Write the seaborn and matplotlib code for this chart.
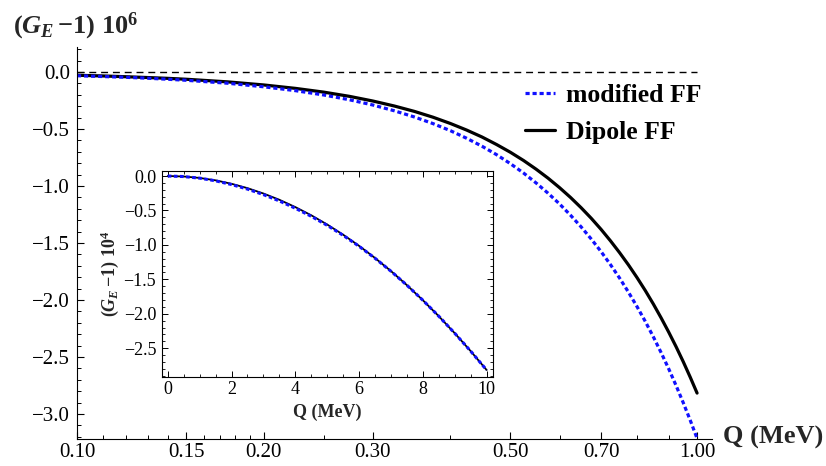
import matplotlib
matplotlib.use("Agg")
import matplotlib.pyplot as plt
from matplotlib.ticker import NullFormatter
import seaborn as sns

# ---- data ----
Q_main = [0.10, 0.11, 0.12, 0.13, 0.14, 0.15, 0.175, 0.20, 0.225, 0.25, 0.275, 0.30, 0.325, 0.35,
          0.375, 0.40, 0.425, 0.45, 0.475, 0.50, 0.525, 0.55, 0.575, 0.60, 0.625, 0.65, 0.675,
          0.70, 0.725, 0.75, 0.775, 0.80, 0.825, 0.85, 0.875, 0.90, 0.925, 0.95, 0.975, 1.00]
dipole_main = [-0.028, -0.034, -0.041, -0.048, -0.055, -0.063, -0.086, -0.113, -0.143, -0.176,
               -0.213, -0.254, -0.298, -0.345, -0.396, -0.451, -0.509, -0.570, -0.636, -0.704,
               -0.776, -0.852, -0.931, -1.014, -1.100, -1.190, -1.283, -1.380, -1.481, -1.585,
               -1.692, -1.803, -1.917, -2.035, -2.157, -2.282, -2.410, -2.542, -2.678, -2.817]
modified_main = [-0.032, -0.039, -0.046, -0.054, -0.063, -0.072, -0.098, -0.129, -0.163, -0.201,
                 -0.243, -0.289, -0.340, -0.394, -0.452, -0.514, -0.581, -0.651, -0.725, -0.804,
                 -0.886, -0.973, -1.063, -1.157, -1.256, -1.358, -1.465, -1.575, -1.690, -1.808,
                 -1.931, -2.058, -2.188, -2.323, -2.462, -2.604, -2.751, -2.902, -3.056, -3.215]

Q_inset = [0.0, 0.5, 1.0, 1.5, 2.0, 2.5, 3.0, 3.5, 4.0, 4.5, 5.0,
           5.5, 6.0, 6.5, 7.0, 7.5, 8.0, 8.5, 9.0, 9.5, 10.0]
dipole_inset = [0.000, -0.007, -0.028, -0.063, -0.113, -0.176, -0.254, -0.345, -0.451, -0.570, -0.704,
                -0.852, -1.014, -1.190, -1.380, -1.584, -1.803, -2.035, -2.282, -2.542, -2.816]
modified_inset = [0.000, -0.008, -0.031, -0.070, -0.124, -0.190, -0.270, -0.362, -0.468, -0.585, -0.716,
                  -0.861, -1.020, -1.194, -1.382, -1.585, -1.803, -2.035, -2.282, -2.542, -2.816]

x_major = [0.10, 0.15, 0.20, 0.30, 0.50, 0.70, 1.00]
x_major_labels = ["0.10", "0.15", "0.20", "0.30", "0.50", "0.70", "1.00"]
x_minor = [0.11, 0.12, 0.13, 0.14, 0.16, 0.17, 0.18, 0.19, 0.25, 0.40, 0.60, 0.80, 0.90]
y_major = [0.0, -0.5, -1.0, -1.5, -2.0, -2.5, -3.0]
y_major_labels = ["0.0", "\u22120.5", "\u22121.0", "\u22121.5", "\u22122.0", "\u22122.5", "\u22123.0"]
y_minor = [0.2, 0.1, -0.1, -0.2, -0.3, -0.4, -0.6, -0.7, -0.8, -0.9, -1.1, -1.2, -1.3, -1.4,
           -1.6, -1.7, -1.8, -1.9, -2.1, -2.2, -2.3, -2.4, -2.6, -2.7, -2.8, -2.9, -3.1, -3.2]

in_x_major = [0, 2, 4, 6, 8, 10]
in_x_labels = ["0", "2", "4", "6", "8", "10"]
in_x_minor = [0.5, 1, 1.5, 2.5, 3, 3.5, 4.5, 5, 5.5, 6.5, 7, 7.5, 8.5, 9, 9.5]
in_y_major = [0.0, -0.5, -1.0, -1.5, -2.0, -2.5]
in_y_labels = ["0.0", "\u22120.5", "\u22121.0", "\u22121.5", "\u22122.0", "\u22122.5"]
in_y_minor = [-0.1, -0.2, -0.3, -0.4, -0.6, -0.7, -0.8, -0.9, -1.1, -1.2, -1.3, -1.4,
              -1.6, -1.7, -1.8, -1.9, -2.1, -2.2, -2.3, -2.4, -2.6, -2.7, -2.8, -2.9]

label_mod = "modified FF"
label_dip = "Dipole FF"

# ---- style ----
sns.set_theme(style="ticks")
plt.rcParams.update({
    "axes.edgecolor": "black",
    "axes.linewidth": 0.8,
    "xtick.color": "black",
    "ytick.color": "black",
    "text.color": "black",
    "mathtext.fontset": "custom",
    "mathtext.rm": "Liberation Serif:bold",
    "mathtext.it": "Liberation Serif:italic:bold",
    "mathtext.bf": "Liberation Serif:bold",
})
plt.rcParams["font.family"] = ["Liberation Serif", "DejaVu Serif"]

W, H = 826, 466
fig = plt.figure(figsize=(W / 100, H / 100), dpi=100)

# main axes
L, R, T, B = 77, 712, 47, 439
ax = fig.add_axes([L / W, (H - B) / H, (R - L) / W, (B - T) / H])
sns.lineplot(x=Q_main, y=dipole_main, ax=ax, color="black", lw=2.3, legend=False)
line_dip = ax.lines[-1]
sns.lineplot(x=Q_main, y=modified_main, ax=ax, color="#1010ff", lw=2.3, legend=False)
line_mod = ax.lines[-1]
line_mod.set_dashes((1.3, 0.9))
line_mod.set_dash_capstyle("butt")
ax.hlines(0.0, Q_main[0], Q_main[-1], colors="black", lw=1.0, linestyles=(0, (5, 3.5)), zorder=1)

ax.set_xscale("log")
ax.set_xlim(0.1, 1.057)
ax.set_ylim(-3.22, 0.22)
ax.set_xticks(x_major, x_major_labels)
ax.set_xticks(x_minor, minor=True)
ax.xaxis.set_minor_formatter(NullFormatter())
ax.set_yticks(y_major, y_major_labels)
ax.set_yticks(y_minor, minor=True)
for s in ["top", "right"]:
    ax.spines[s].set_visible(False)
ax.tick_params(which="major", direction="in", length=5, width=0.8, labelsize=15)
ax.tick_params(which="minor", direction="in", length=3, width=0.7)
ax.tick_params(axis="y", which="major", pad=5)
ax.tick_params(axis="x", which="major", pad=3)

ax.set_xlabel("Q (MeV)", fontsize=19, fontweight="bold", ha="left", va="baseline")
ax.xaxis.set_label_coords((723 - L) / (R - L), (B - 444) / (B - T))
ax.set_ylabel(r"$(G_E\,{-}1)\ 10^6$", fontsize=19, rotation=0, ha="left", va="baseline")
ax.yaxis.set_label_coords((13 - L) / (R - L), (B - 33) / (B - T))

leg = ax.legend([line_mod, line_dip], [label_mod, label_dip], frameon=False,
                loc="upper left", bbox_to_anchor=(525 / W, (H - 84) / H),
                bbox_transform=fig.transFigure, borderpad=0, borderaxespad=0,
                handlelength=1.15, handletextpad=0.45, labelspacing=0.55,
                prop={"family": "Liberation Serif", "weight": "bold", "size": 18.5})

# inset axes
iL, iR, iT, iB = 161.7, 492.7, 170.7, 377
axi = fig.add_axes([iL / W, (H - iB) / H, (iR - iL) / W, (iB - iT) / H])
sns.lineplot(x=Q_inset, y=dipole_inset, ax=axi, color="black", lw=1.3, legend=False)
sns.lineplot(x=Q_inset, y=modified_inset, ax=axi, color="#1010ff", lw=2.2, legend=False)
axi.lines[-1].set_dashes((1.2, 0.8))
axi.lines[-1].set_dash_capstyle("butt")
axi.set_xlim(-0.19, 10.19)
axi.set_ylim(-2.917, 0.077)
axi.set_xticks(in_x_major, in_x_labels)
axi.set_xticks(in_x_minor, minor=True)
axi.set_yticks(in_y_major, in_y_labels)
axi.set_yticks(in_y_minor, minor=True)
for s in ["top", "right", "left", "bottom"]:
    axi.spines[s].set_visible(True)
axi.tick_params(which="both", direction="in", top=True, right=True)
axi.tick_params(which="major", length=4, width=0.7, labelsize=13)
axi.tick_params(which="minor", length=2, width=0.6)
axi.tick_params(axis="y", which="major", pad=4)
axi.tick_params(axis="x", which="major", pad=3)
axi.set_xlabel("Q (MeV)", fontsize=13, fontweight="bold", labelpad=4)
axi.set_ylabel(r"$(G_E\,{-}1)\ 10^4$", fontsize=13, labelpad=2)

fig.savefig("out.png", dpi=100)
